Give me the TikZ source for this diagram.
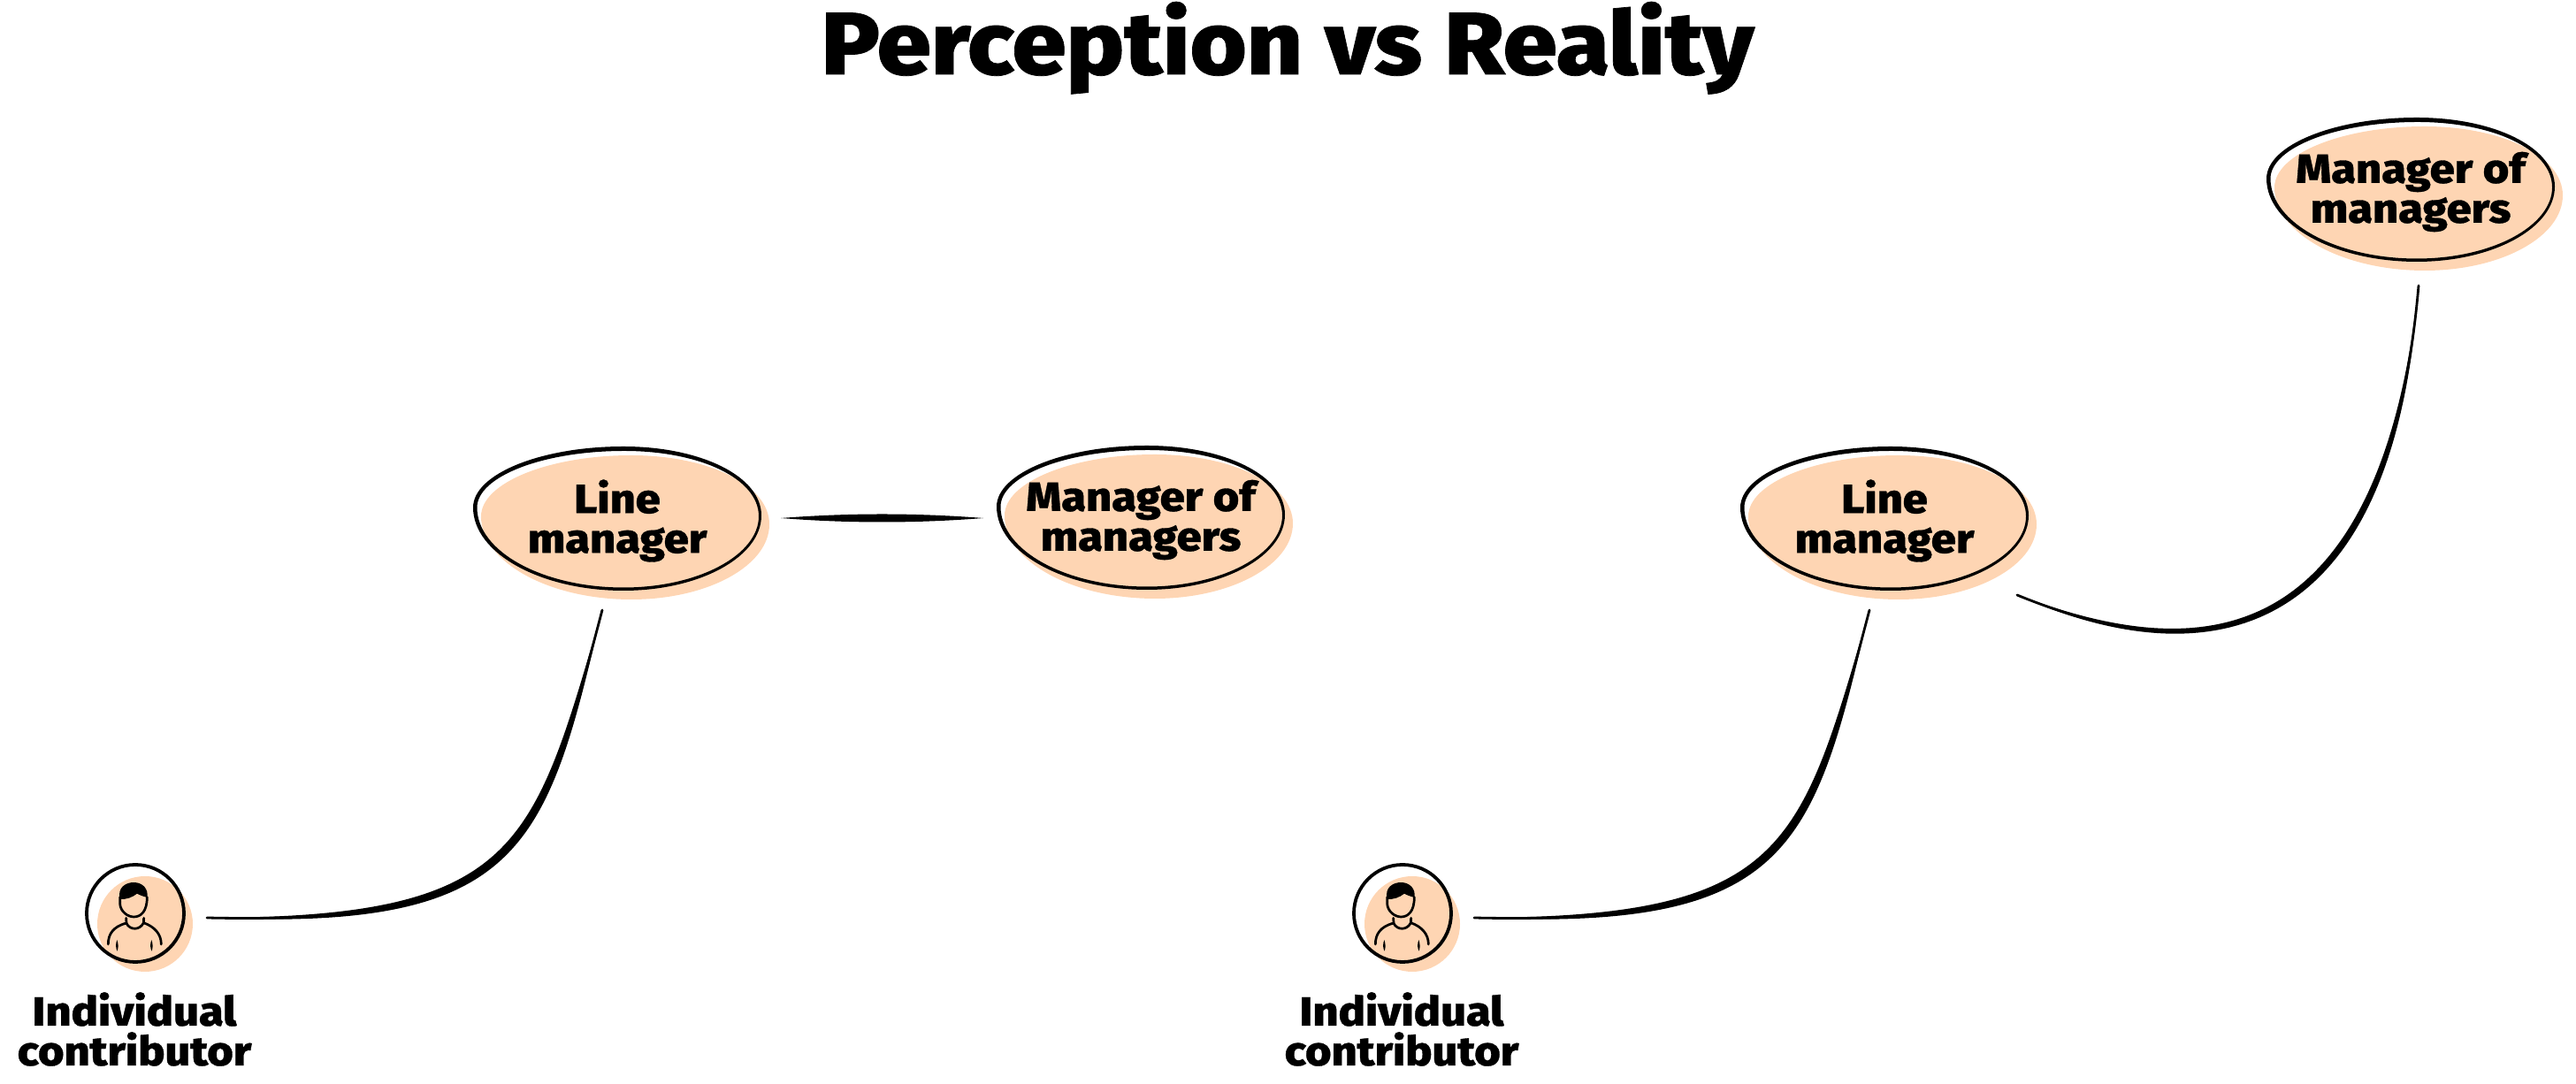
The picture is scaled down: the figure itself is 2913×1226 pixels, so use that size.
\documentclass[tikz,border=0pt]{standalone}
\usepackage{fontspec}
\newfontfamily\hv[FakeStretch=1.1,FakeBold=0.7]{Fira Sans ExtraBold}
\usetikzlibrary{shapes.geometric}
\definecolor{peach}{HTML}{FED5B3}
\tikzset{
  x=.25pt,y=-.25pt,
  oval/.style={ellipse,inner sep=0pt,minimum width=81.5pt,minimum height=41pt},
  blob/.style={fill=peach},
  lab/.style={font=\hv\fontsize{11.5pt}{11.25pt}\selectfont,align=center,inner sep=0pt,text=black},
  taper/.style={fill=black},
  thin stroke/.style={draw=black,line width=.7pt,line cap=round},
  line/.style={line width=.68pt,line cap=round,line join=round},
  person/.pic={
    \begin{scope}[x=.25pt/3,y=-.25pt/3,shift={(-460,-400)}]
      \fill (408,352) .. controls (398,312) and (428,295) .. (455,295) .. controls (485,295) and (506,318) .. (500,346) .. controls (485,342) and (475,338) .. (466,333) .. controls (450,346) and (430,353) .. (408,352) -- cycle;
      \draw[line] (408,345) -- (408,368) .. controls (410,395) and (435,412) .. (455,412) .. controls (478,412) and (500,395) .. (500,345);
      \draw[line] (429,416) -- (430,434) .. controls (442,458) and (476,458) .. (488,432) -- (489,416);
      \draw[line] (368,505) .. controls (368,470) and (385,445) .. (430,433);
      \draw[line] (488,432) .. controls (525,445) and (548,470) .. (548,505);
      \fill (398,490) .. controls (392,505) and (394,520) .. (399,528) .. controls (403,515) and (403,505) .. (398,490) -- cycle;
      \fill (515,490) .. controls (509,505) and (511,520) .. (516,528) .. controls (520,515) and (520,505) .. (515,490) -- cycle;
    \end{scope}
  }
}
% hand-drawn egg outline through top, right, bottom, left extremes
\newcommand{\eggpath}[2]{%
  (#1+7,#2-81) .. controls (#1+93,#2-81) and (#1+163,#2-48) .. (#1+163,#2-3)
  .. controls (#1+163,#2+44) and (#1+93,#2+82) .. (#1+7,#2+82)
  .. controls (#1-86,#2+82) and (#1-163,#2+40) .. (#1-163,#2-12)
  .. controls (#1-163,#2-50) and (#1-86,#2-81) .. (#1+7,#2-81) -- cycle}
\newcommand{\egginner}[2]{%
  (#1+8,#2-76) .. controls (#1+93,#2-76) and (#1+160,#2-45) .. (#1+160,#2-2)
  .. controls (#1+160,#2+41) and (#1+93,#2+78.5) .. (#1+7,#2+78.5)
  .. controls (#1-84,#2+78.5) and (#1-158.5,#2+38) .. (#1-158.5,#2-12)
  .. controls (#1-158.5,#2-47) and (#1-84,#2-76) .. (#1+8,#2-76) -- cycle}
\newcommand{\ovalat}[4]{% name, outline centre x, y, text
  \fill[blob] \eggpath{#2+9}{#3+10};
  \node[oval] (#1) at (#2,#3) {};
  \fill[even odd rule] \eggpath{#2}{#3} \egginner{#2}{#3};
  \node[lab] (#1t) at (#2,#3+3) {#4};
}
\newcommand{\iconat}[3]{% name, x, y
  \fill[blob] (#2+11,#3+12) circle [radius=54];
  \node[circle,draw=black,line width=.95pt,minimum size=27.5pt,inner sep=0pt] (#1) at (#2,#3) {};
  \pic at (#2,#3) {person};
  \node[lab] (#1t) at (#2-1,1164) {Individual\\contributor};
}
\begin{document}
\begin{tikzpicture}
\useasboundingbox (0,0) rectangle (2913,1226);
\node[inner sep=0pt,font=\hv\fontsize{25pt}{25pt}\selectfont,anchor=base] (title) at (1456,84) {Perception vs Reality};
% left
\iconat{ic1}{153}{1033}
\ovalat{lm1}{698}{586}{Line\\manager}
\ovalat{mm1}{1290}{585}{Manager of\\managers}
\coordinate (a1) at (234,1038);
\coordinate (b1) at (681,690);
\draw[thin stroke] (a1) .. controls (590,1046) and (610,960) .. (b1);
\fill[taper] (a1) .. controls (590,1038) and (602,958) .. (b1) .. controls (618,962) and (590,1054) .. (a1) -- cycle;
\coordinate (a2) at (883,586);
\coordinate (b2) at (1112,586);
\fill[taper] (a2) .. controls (960,580) and (1035,580) .. (b2) .. controls (1035,592) and (960,592) .. (a2) -- cycle;
% right
\iconat{ic2}{1586}{1033}
\ovalat{lm2}{2131}{586}{Line\\manager}
\ovalat{mm2}{2726}{214}{Manager of\\managers}
\coordinate (a3) at (1667,1038);
\coordinate (b3) at (2114,690);
\draw[thin stroke] (a3) .. controls (2023,1046) and (2043,960) .. (b3);
\fill[taper] (a3) .. controls (2023,1038) and (2035,958) .. (b3) .. controls (2051,962) and (2023,1054) .. (a3) -- cycle;
\coordinate (a4) at (2281,673);
\coordinate (b4) at (2735,323);
\draw[thin stroke] (a4) .. controls (2440,738) and (2695,785) .. (b4);
\fill[taper] (a4) .. controls (2442,732) and (2686,784) .. (b4) .. controls (2704,786) and (2438,744) .. (a4) -- cycle;
\end{tikzpicture}
\end{document}
